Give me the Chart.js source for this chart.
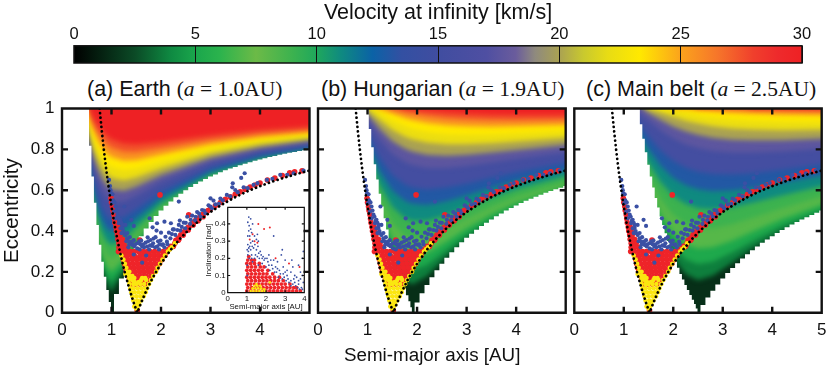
<!DOCTYPE html>
<html>
<head>
<meta charset="utf-8">
<script src="https://cdn.jsdelivr.net/npm/chart.js@4"></script>
<style>
  html, body { margin: 0; background: #fff; }
  #page { position: relative; width: 830px; height: 371px; overflow: hidden; font-family: "Liberation Sans", sans-serif; color: #111; }
  canvas { position: absolute; }
  .ptitle { position: absolute; top: 77px; font-size: 21.5px; white-space: nowrap; line-height: 24px; }
  .ptitle span { font-family: "Liberation Serif", serif; font-size: 21.5px; }
  #xlabel { position: absolute; top: 343px; left: 344px; font-size: 18.8px; white-space: nowrap; line-height: 24px; }
</style>
</head>
<body>
<div id="page">
  <canvas id="cbar" width="830" height="66" style="left:0;top:0"></canvas>
  <div class="ptitle" style="left:87px">(a) Earth <span>(<i>a</i> = 1.0AU)</span></div>
  <div class="ptitle" style="left:321px">(b) Hungarian <span>(<i>a</i> = 1.9AU)</span></div>
  <div class="ptitle" style="left:586px">(c) Main belt <span>(<i>a</i> = 2.5AU)</span></div>
  <canvas id="earth" width="322" height="271" style="left:0;top:100px"></canvas>
  <canvas id="hungarian" width="270" height="271" style="left:306px;top:100px"></canvas>
  <canvas id="mainbelt" width="268" height="271" style="left:562px;top:100px"></canvas>
  <canvas id="inset" width="112" height="118" style="left:200px;top:200px"></canvas>
  <div id="xlabel">Semi-major axis [AU]</div>
</div>
<script>
// colour scale
const scaleValues = [0, 2.5, 4, 5, 6, 7.5, 9, 10, 11, 12.3, 13.5, 15, 17, 18.2, 19, 20, 21, 22, 23.3, 25, 26.5, 28, 29, 30];
const scaleColours = ['#000000', '#0b4a26', '#0f8a42', '#1aa64c', '#2bb34d', '#6cba47', '#3cb24f', '#1fa85c', '#0f8a80', '#0b62a6', '#3350a2', '#404da0', '#4f4fa2', '#6a5c9c', '#8f8a7e', '#aaa252', '#c9c92e', '#e8dc14', '#ffe900', '#fba31c', '#f6762a', '#f03f2c', '#ee2a2c', '#ee2124'];
const cbarTicks = [0, 5, 10, 15, 20, 25, 30];

// contour levels in km/s, one row per level in the tables below
const levels = [3, 4.5, 6, 8, 10, 12, 14, 17, 19, 21, 23, 25, 27, 29];
// value whose colour paints the band above each level
const bandValues = [3.75, 5.25, 7, 9, 11, 13, 15.5, 17.6, 20, 22.2, 23.3, 25.6, 27.5, 30];
const floorValue = 1.6;

const earthA = [0.6, 0.7, 0.8, 0.9, 1, 1.25, 1.5, 2, 3, 4, 5.2];
const earthIso = [
  [.52, .36, .233, .14, .101, .202, .317, .474, .642, .729, .79],
  [.533, .379, .26, .181, .151, .228, .332, .483, .646, .732, .792],
  [.551, .404, .295, .226, .2, .26, .352, .494, .652, .736, .795],
  [.581, .444, .347, .289, .266, .307, .384, .513, .663, .743, .8],
  [.616, .49, .403, .352, .331, .359, .422, .536, .676, .752, .807],
  [.655, .539, .461, .415, .395, .412, .463, .563, .691, .763, .814],
  [.696, .59, .519, .477, .457, .466, .506, .592, .708, .775, .823],
  [.76, .668, .605, .567, .547, .545, .573, .64, .737, .795, .839],
  [.801, .718, .661, .625, .605, .597, .618, .673, .758, .81, .85],
  [.842, .767, .714, .68, .66, .648, .662, .706, .78, .826, .862],
  [.88, .813, .764, .732, .712, .697, .705, .74, .802, .843, .874],
  [.914, .855, .811, .781, .762, .744, .747, .773, .824, .859, .887],
  [.944, .894, .855, .827, .808, .788, .787, .805, .846, .876, .9],
  [.969, .928, .894, .869, .85, .829, .825, .836, .868, .893, .913]
];
const earthLeftEdge = [[.52,1],[.57,.818],[.62,.667],[.67,.538],[.72,.429],[.77,.333],[.82,.25],[.87,.176],[.92,.111],[.97,.053],[1.01,0]];
const earthLowEdge = [[1,0],[1.1,.091],[1.2,.167],[1.3,.231],[1.4,.286],[1.5,.333],[1.6,.375],[1.7,.412],[1.8,.444],[1.9,.474],[2,.5],[2.1,.524],[2.2,.545],[2.3,.565],[2.4,.583],[2.5,.6],[2.6,.615],[2.7,.63],[2.8,.643],[2.9,.655],[3,.667],[3.1,.677],[3.2,.688],[3.3,.697],[3.4,.706],[3.5,.714],[3.6,.722],[3.7,.73],[3.8,.737],[3.9,.744],[4,.75],[4.1,.756],[4.2,.762],[4.3,.767],[4.4,.773],[4.5,.778],[4.6,.783],[4.7,.787],[4.8,.792],[4.9,.796],[5,.8]];

const hungarianA = [1, 1.25, 1.5, 1.75, 1.9, 2.2, 2.6, 3, 3.5, 4, 5.2];
const hungarianIso = [
  [.667, .435, .264, .159, .138, .179, .274, .357, .44, .504, .613],
  [.685, .464, .309, .224, .207, .233, .308, .381, .457, .518, .622],
  [.709, .502, .362, .29, .275, .291, .35, .412, .481, .537, .634],
  [.748, .561, .44, .378, .364, .37, .412, .462, .519, .568, .656],
  [.792, .625, .519, .464, .45, .45, .478, .516, .563, .605, .682],
  [.838, .692, .598, .548, .534, .528, .546, .574, .611, .645, .711],
  [.883, .757, .674, .628, .613, .603, .613, .632, .661, .688, .743],
  [.944, .848, .779, .738, .723, .709, .709, .719, .736, .754, .793],
  [.974, .9, .841, .804, .79, .774, .769, .773, .784, .797, .827],
  [.994, .944, .896, .863, .85, .833, .825, .825, .83, .839, .86],
  [1.03, .977, .941, .914, .901, .885, .874, .871, .873, .878, .891],
  [1.03, .996, .975, .954, .944, .929, .918, .913, .911, .913, .92],
  [1.03, 1.03, .995, .983, .976, .964, .953, .947, .944, .943, .946],
  [1.03, 1.03, 1.03, .998, .995, .988, .98, .974, .97, .968, .968]
];
const hungarianLeftEdge = [[1,1],[1.05,.9],[1.1,.81],[1.15,.727],[1.2,.652],[1.25,.583],[1.3,.52],[1.35,.462],[1.4,.407],[1.45,.357],[1.5,.31],[1.55,.267],[1.6,.226],[1.65,.188],[1.7,.152],[1.75,.118],[1.8,.086],[1.85,.056],[1.88,.027],[1.91,0]];
const hungarianLowEdge = [[1.9,0],[2,.05],[2.1,.095],[2.2,.136],[2.3,.174],[2.4,.208],[2.5,.24],[2.6,.269],[2.7,.296],[2.8,.321],[2.9,.345],[3,.367],[3.1,.387],[3.2,.406],[3.3,.424],[3.4,.441],[3.5,.457],[3.6,.472],[3.7,.486],[3.8,.5],[3.9,.513],[4,.525],[4.1,.537],[4.2,.548],[4.3,.558],[4.4,.568],[4.5,.578],[4.6,.587],[4.7,.596],[4.8,.604],[4.9,.612],[5,.62]];

const mainBeltA = [1.25, 1.5, 1.75, 2, 2.25, 2.5, 2.8, 3.2, 3.6, 4.2, 5.2];
const mainBeltIso = [
  [.725, .536, .383, .266, .188, .159, .181, .246, .312, .397, .502],
  [.745, .567, .426, .323, .261, .238, .249, .296, .35, .424, .521],
  [.772, .606, .478, .388, .336, .315, .32, .353, .396, .459, .545],
  [.815, .668, .556, .48, .435, .415, .414, .434, .465, .513, .585],
  [.861, .734, .637, .571, .532, .512, .506, .517, .538, .574, .631],
  [.907, .801, .718, .66, .624, .604, .595, .598, .611, .637, .681],
  [.949, .864, .793, .743, .71, .69, .679, .677, .683, .7, .732],
  [.991, .942, .892, .853, .824, .806, .792, .784, .784, .79, .807],
  [1.03, .979, .944, .912, .888, .871, .857, .847, .844, .845, .854],
  [1.03, .998, .981, .959, .94, .926, .913, .902, .897, .894, .897],
  [1.03, 1.03, .999, .99, .978, .967, .957, .947, .941, .936, .934],
  [1.03, 1.03, 1.03, 1, .998, .993, .987, .979, .974, .969, .965],
  [1.03, 1.03, 1.03, 1.03, 1.03, 1, 1, .997, .995, .991, .987],
  [1.03, 1.03, 1.03, 1.03, 1.03, 1.03, 1.03, 1.03, 1, 1, .999]
];
const mainBeltLeftEdge = [[1.3,1],[1.35,.923],[1.4,.852],[1.45,.786],[1.5,.724],[1.55,.667],[1.6,.613],[1.65,.562],[1.7,.515],[1.75,.471],[1.8,.429],[1.85,.389],[1.9,.351],[1.95,.316],[2,.282],[2.05,.25],[2.1,.22],[2.15,.19],[2.2,.163],[2.25,.136],[2.3,.111],[2.35,.087],[2.4,.064],[2.44,.042],[2.47,.02],[2.51,0]];
const mainBeltLowEdge = [[2.5,0],[2.6,.038],[2.7,.074],[2.8,.107],[2.9,.138],[3,.167],[3.1,.194],[3.2,.219],[3.3,.242],[3.4,.265],[3.5,.286],[3.6,.306],[3.7,.324],[3.8,.342],[3.9,.359],[4,.375],[4.1,.39],[4.2,.405],[4.3,.419],[4.4,.432],[4.5,.444],[4.6,.457],[4.7,.468],[4.8,.479],[4.9,.49],[5,.5]];

// known bodies, [a, e]: the same orbits in all three panels
const blueOrbits = [[.95,.65],[.97,.62],[.99,.585],[1.03,.55],[1.08,.52],[1.26,.52],[1.12,.48],[1.18,.455],[1.28,.43],[1.4,.455],[1.45,.425],[1.22,.415],[1.32,.39],[1.37,.37],[1.45,.355],[1.52,.34],[1.6,.353],[1.69,.343],[1.79,.356],[1.89,.37],[1.99,.353],[2.09,.372],[2.16,.392],[2.26,.408],[2.36,.43],[2.46,.441],[2.53,.47],[2.63,.475],[2.73,.493],[2.83,.503],[2.96,.526],[3.06,.549],[3.2,.559],[3.33,.577],[3.5,.601],[3.67,.614],[3.87,.626],[4.14,.65],[4.41,.675],[4.68,.683],[4.88,.696],
  [1.77,.462],[1.83,.418],[1.91,.402],[1.92,.438],[2.07,.446],[2.2,.438],[2.24,.408],[2.38,.451],[2,.392],[1.73,.369],[1.85,.363],[2.36,.544],[3.69,.683],[3.44,.614],[3,.56],[3.62,.66],[3.45,.634],
  [1.42,.332],[1.52,.315],[1.62,.324],[1.72,.324],[1.82,.327],[1.92,.324],[2.02,.332],[2.12,.348],[2.19,.364],[2.29,.381],[2.39,.402],[2.49,.413],[2.59,.435],[2.69,.451],[2.8,.47],[2.9,.487],[3.03,.511],[3.17,.533],[1.15,.438],[1.18,.413],[1.25,.389],[1.32,.364],[1.38,.343],[1.01,.536],[1.05,.495],[1.08,.462],[1.62,.245],[1.45,.285],[1.7,.28],
  [1.3,.35],[1.36,.335],[1.42,.35],[1.48,.335],[1.56,.35],[1.64,.335],[1.74,.35],[1.84,.34],[1.94,.35],[2.04,.335],
  [1.34,.32],[1.46,.325],[1.58,.335],[1.66,.32],[1.78,.33],[1.88,.32],[1.97,.335],[2.07,.32],[2.13,.335],
  [1.57,.31],[1.76,.31],[1.96,.31],
  [2.22,.385],[2.33,.405],[2.42,.42],[2.5,.44],[2.6,.455],[2.7,.47],[2.77,.485],[2.87,.5],[3,.52],[3.1,.53],[3.25,.55],[3.4,.57],[3.55,.59],[3.75,.61],[3.95,.635],[4.25,.655],[4.55,.675],
  [.98,.6],[1.02,.58],[1.06,.54],[1.1,.5],[1.14,.47],[1.16,.45],[1.2,.44],[1.22,.43],[1.24,.4],[1.28,.38],[1.35,.35],[1.2,.39]];
const redOrbits = [[1.98,.577],[2.56,.479],[1.57,.356],
  [1.15,.32],[1.22,.32],[1.3,.32],[1.25,.34],[1.22,.36],[2.2,.32],[2.28,.34],[2.36,.36],
  [1.14,.3],[1.22,.3],[1.3,.3],[1.38,.3],[1.46,.3],[1.55,.3],[1.64,.3],[1.72,.3],[1.46,.28],[1.57,.27],[1.78,.3],[1.87,.3],[1.95,.3],[2.04,.3],[2.12,.3],
  [1.22,.28],[1.31,.28],[1.4,.28],[1.49,.27],[1.58,.28],[1.67,.28],[1.76,.28],[1.85,.28],[1.94,.28],[2.03,.28],[2.08,.28],
  [1.24,.26],[1.33,.26],[1.42,.26],[1.51,.26],[1.6,.26],[1.69,.26],[1.78,.26],[1.87,.26],[1.96,.26],[2.02,.26],
  [1.26,.24],[1.35,.24],[1.44,.24],[1.53,.24],[1.62,.24],[1.71,.24],[1.8,.24],[1.89,.24],[1.97,.24],
  [1.28,.22],[1.37,.22],[1.46,.22],[1.55,.22],[1.64,.22],[1.73,.22],[1.82,.22],[1.92,.22],
  [1.3,.2],[1.39,.2],[1.48,.2],[1.57,.2],[1.66,.2],[1.75,.2],[1.85,.2],
  [1.34,.18],[1.43,.18],[1.52,.18],[1.61,.18],[1.7,.18],[1.8,.18],
  [1.36,.16],[1.45,.16],[1.54,.16],[1.63,.16],[1.72,.16],
  [1.4,.14],[1.49,.14],[1.58,.14],[1.67,.14],[1.52,.01],
  [1.15,.34],[1.13,.36],[1.12,.38],[1.1,.4],[1.09,.42],[1.07,.44],[1.06,.46],[1.05,.48],[1.03,.5],[1.02,.52],[1,.54],[.99,.56],
  [1.2,.34],[1.18,.36],[1.17,.38],[1.15,.4],[1.13,.42],
  [2.2,.325],[2.3,.354],[2.4,.382],[2.5,.407],[2.6,.43],[2.7,.452],[2.8,.472],[2.9,.491],[3,.508],[3.2,.54],[3.4,.568],[3.6,.592],[3.8,.615],[4,.635],[4.3,.66],[4.6,.685],[4.85,.695],
  [2.25,.325],[2.35,.355],[2.45,.38],[2.55,.405],[2.65,.43],[2.75,.45],[2.85,.47],
  [2.15,.31],[2.35,.365],[2.45,.395],[2.55,.418],[2.65,.442],[2.75,.462],[2.85,.482],[2.95,.5],[3.1,.525],[3.3,.555],[3.5,.58],[3.7,.605],[3.9,.625],[4.15,.65],[4.45,.672],[4.7,.69]];
const yellowOrbits = [[1.5,.02],[1.48,.04],[1.56,.04],[1.44,.06],[1.52,.06],[1.6,.06],[1.42,.08],[1.5,.08],[1.58,.08],[1.65,.08],[1.4,.1],[1.47,.1],[1.55,.1],[1.63,.1],[1.69,.1],[1.38,.12],[1.44,.12],[1.52,.12],[1.6,.12],[1.68,.12],[1.72,.12],[1.36,.14],[1.44,.14],[1.5,.14],[1.58,.14],[1.66,.14],[1.76,.14],[1.35,.16],[1.42,.16],[1.6,.16],[1.7,.16],[1.8,.16],[1.34,.18],[1.38,.18],[1.42,.18],[1.84,.18],[1.31,.2],[1.36,.2],[1.9,.2],[1.3,.22],[1.93,.22],[1.27,.24],[1.98,.24],[1.24,.26],[2.03,.26],[1.2,.28],[2.08,.28],[2.14,.3],[2.22,.32],[2.28,.34],
  [1.28,.19],[1.4,.17],[1.46,.17],[1.47,.15],[1.55,.15],[1.62,.17],[1.68,.17],[2.18,.31],[1.46,.03],[1.53,.03],[1.54,.05]];

// dotted line of Mars-crossing orbits
const marsLine = [[.76,1],[.8,.9],[.85,.788],[.9,.689],[.95,.6],[1,.52],[1.05,.448],[1.1,.382],[1.15,.322],[1.2,.267],[1.25,.216],[1.3,.169],[1.35,.126],[1.4,.086],[1.45,.048],[1.52,0],[1.6,.05],[1.7,.106],[1.8,.156],[1.9,.2],[2,.24],[2.2,.309],[2.4,.367],[2.6,.415],[2.8,.457],[3,.493],[3.25,.532],[3.5,.566],[3.75,.595],[4,.62],[4.25,.642],[4.5,.662],[4.75,.68],[5,.696]];

// inset: [a, inclination]
const insetBlue = [[1.1,.44],[1.2,.43],[1.05,.41],[1.3,.4],[1.2,.37],[1.1,.36],[1.4,.33],[1.5,.31],[1.6,.3],[1.3,.3],[1.2,.29],[1.05,.28],[1.1,.26],[1.02,.25],[1.2,.25],[1.35,.26],[1.5,.25],[1.7,.24],[1.85,.21],[1.05,.22],[1.25,.22],[1.45,.22],[1.65,.2],[1.9,.19],[2.1,.18],[2.3,.16],[2.5,.15],[2,.15],[2.2,.13],[2.45,.12],[2.7,.13],[2.9,.11],[3.1,.1],[2.65,.09],[2.85,.08],[3.05,.07],[3.3,.07],[3.5,.06],[3.3,.04],[3.7,.05],[3.85,.03],[3.95,.06],[3.6,.09],[3.8,.08],[2.4,.33],[2.8,.22],[3,.19],[3.4,.15],[3.9,.2],[3.8,.12],[3.5,.1],[3,.12],[2.6,.18],[3.3,.12],[3.95,.24],[3.7,.16],[1.8,.17],[1.6,.16],[1.3,.18],[1.02,.16],[1.02,.1],
  [1.08,.24],[1.15,.27],[1.28,.27],[1.42,.28],[1.58,.27],[1.62,.23],[1.75,.22],[1.95,.2],[2.05,.2],[2.15,.16],[2.25,.19],[2.35,.14],[2.55,.12],[2.6,.14],[2.75,.11],[2.95,.09],[3.15,.08],[3.2,.06],[3.4,.05],[3.55,.04],[3.65,.03],[3.75,.02],[3.9,.02],[3.45,.08],[3.7,.07],[3.9,.1],[3.1,.13],[2.9,.15],[2.4,.19],[2.15,.22],[1.55,.34],[1.15,.33],[1.05,.33],[1.25,.35],[1.12,.39],[2.85,.25],[3.35,.19],[1.4,.2],[1.55,.21],[1.12,.2],[1.25,.2],[1.8,.2]];
const insetRed = [[1.6,.4],[1.9,.37],[2.2,.38],[1.4,.3],[1.15,.31],[1.55,.29],[2.5,.2],[3.2,.17],[3.75,.15],[1.3,.34]];
const insetRedCore = [
  [1,.01],[1.2,.01],[1.4,.01],[1.6,.01],[1.8,.01],[2,.01],[2.2,.01],[2.4,.01],[2.6,.01],[2.8,.01],[3,.01],[3.2,.01],[3.4,.01],[3.6,.01],[3.8,.01],
  [1.05,.03],[1.25,.03],[1.45,.03],[1.65,.03],[1.85,.03],[2.05,.03],[2.25,.03],[2.45,.03],[2.65,.03],[2.85,.03],[3.05,.03],[3.25,.03],[3.45,.03],[3.6,.03],
  [1,.05],[1.2,.05],[1.4,.05],[1.6,.05],[1.8,.05],[2,.05],[2.2,.05],[2.4,.05],[2.6,.05],[2.8,.05],[3,.05],[3.25,.05],
  [1.05,.07],[1.25,.07],[1.45,.07],[1.65,.07],[1.85,.07],[2.05,.07],[2.25,.07],[2.45,.07],[2.65,.07],[2.9,.07],
  [1,.09],[1.2,.09],[1.4,.09],[1.6,.09],[1.8,.09],[2,.09],[2.2,.09],[2.45,.09],[2.7,.09],
  [1.05,.11],[1.25,.11],[1.45,.11],[1.65,.11],[1.85,.11],[2.05,.11],[2.35,.11],
  [1,.13],[1.2,.13],[1.4,.13],[1.6,.13],[1.8,.13],[2.1,.13],
  [1.05,.15],[1.25,.15],[1.45,.15],[1.7,.15],[1.9,.15],
  [1,.17],[1.2,.17],[1.4,.17],[1.65,.17],
  [1.05,.19],[1.25,.19],[1.4,.19],[1.1,.21]];
const insetYellow = [[1.2,.01],[1.35,.01],[1.5,.01],[1.65,.01],[1.8,.01],[1.95,.01],[1.3,.025],[1.45,.025],[1.6,.025],[1.75,.025],[1.9,.02],[1.4,.04],[1.55,.04],[1.7,.04],[1.5,.05],[2.2,.06]];

const axisFont = { family: '"Liberation Sans", sans-serif', size: 17 };
const inkColour = '#111';
const HEAT_BLUR = 'blur(2.5px)';

function hexToRgb(hex) {
  return [1, 3, 5].map(i => parseInt(hex.slice(i, i + 2), 16));
}

function colourAt(v) {
  let i = 0;
  while (i < scaleValues.length - 2 && v > scaleValues[i + 1]) i++;
  const t = Math.min(1, Math.max(0, (v - scaleValues[i]) / (scaleValues[i + 1] - scaleValues[i])));
  const c0 = hexToRgb(scaleColours[i]);
  const c1 = hexToRgb(scaleColours[i + 1]);
  const rgb = c0.map((c, k) => Math.round(c + (c1[k] - c) * t));
  return 'rgb(' + rgb.join(',') + ')';
}

const toPoints = pairs => pairs.map(p => ({ x: p[0], y: p[1] }));

function shape(pairs, colour, stepped) {
  return {
    data: toPoints(pairs),
    showLine: true,
    fill: 'shape',
    backgroundColor: colour,
    borderWidth: 0,
    pointRadius: 0,
    stepped: stepped || false
  };
}

function dots(pairs, colour, radius) {
  return {
    data: toPoints(pairs),
    backgroundColor: colour,
    borderWidth: 0,
    pointRadius: radius,
    showLine: false
  };
}

// pin plot area and both axes to fixed canvas positions, the automatic layout drifts with the label sizes
function pinArea(box) {
  return {
    id: 'pinArea',
    afterLayout(chart) {
      const a = chart.chartArea;
      a.left = box.left; a.right = box.right; a.top = box.top; a.bottom = box.bottom;
      a.width = box.right - box.left;
      a.height = box.bottom - box.top;
      const { x, y } = chart.scales;
      x.left = box.left; x.right = box.right; x.width = a.width;
      x.top = box.bottom; x.bottom = box.axisBottom; x.height = box.axisBottom - box.bottom;
      y.left = box.axisLeft; y.right = box.left; y.width = box.left - box.axisLeft;
      y.top = box.top; y.bottom = box.bottom; y.height = a.height;
      x.configure();
      y.configure();
    }
  };
}

// frame and inward ticks on all four sides, taken from the scales
function framePlugin(lineWidth, tickLen) {
  return {
    id: 'frame',
    afterDraw(chart) {
      const { ctx, chartArea: a, scales } = chart;
      ctx.save();
      ctx.strokeStyle = inkColour;
      ctx.lineWidth = lineWidth;
      ctx.beginPath();
      scales.x.ticks.forEach(t => {
        const x = scales.x.getPixelForValue(t.value);
        ctx.moveTo(x, a.bottom); ctx.lineTo(x, a.bottom - tickLen);
        ctx.moveTo(x, a.top); ctx.lineTo(x, a.top + tickLen);
      });
      scales.y.ticks.forEach(t => {
        const y = scales.y.getPixelForValue(t.value);
        ctx.moveTo(a.left, y); ctx.lineTo(a.left + tickLen, y);
        ctx.moveTo(a.right, y); ctx.lineTo(a.right - tickLen, y);
      });
      ctx.rect(a.left, a.top, a.right - a.left, a.bottom - a.top);
      ctx.stroke();
      ctx.restore();
    }
  };
}

function panel(id, cols, iso, leftEdge, lowEdge, opts) {
  const apex = lowEdge[0][0];
  const heat = [];
  // highest level goes first, it has to be painted last
  for (let i = levels.length - 1; i >= 0; i--) {
    const pts = cols.map((a, k) => [a, iso[i][k]]);
    pts.push([5.6, iso[i][cols.length - 1]], [5.6, 1.2], [cols[0] - 0.3, 1.2]);
    heat.push(shape(pts, colourAt(bandValues[i])));
  }
  heat.push(shape([[-0.2, -0.2], [5.6, -0.2], [5.6, 1.2], [-0.2, 1.2]], colourAt(floorValue)));

  const leftMask = [[-0.2, 1.2], [leftEdge[0][0], 1.2], ...leftEdge, [apex, -0.2], [-0.2, -0.2]];
  const lowMask = [[apex, -0.2], ...lowEdge, [5.6, lowEdge[lowEdge.length - 1][1]], [5.6, -0.2]];

  const datasets = [
    {
      data: toPoints(marsLine), showLine: true, pointRadius: 0,
      borderColor: '#000', borderWidth: 2.7, borderDash: [0.1, 4.5], borderCapStyle: 'round'
    },
    dots(yellowOrbits, '#fbe610', 2.3),
    dots(blueOrbits, '#3a50a4', 2.1),
    dots(redOrbits, '#ee2429', 2.8),
    shape(leftMask, '#fff', 'middle'),
    shape(lowMask, '#fff', 'middle'),
    ...heat
  ];
  const firstHeat = 6;

  const blurPlugin = {
    id: 'heatBlur',
    beforeDatasetsDraw(chart) { chart.ctx.filter = HEAT_BLUR; },
    afterDatasetDraw(chart, args) { if (args.index === firstHeat) chart.ctx.filter = 'none'; }
  };

  return new Chart(document.getElementById(id), {
    type: 'scatter',
    data: { datasets },
    plugins: [pinArea(opts.box), blurPlugin, framePlugin(2.4, 6)],
    options: {
      responsive: false,
      animation: false,
      layout: { autoPadding: false },
      plugins: { legend: { display: false }, tooltip: { enabled: false } },
      scales: {
        x: {
          type: 'linear', min: 0, max: 5,
          grid: { display: false, drawTicks: false }, border: { display: false },
          afterBuildTicks(s) { s.ticks = opts.xTicks.map(v => ({ value: v })); },
          ticks: { color: inkColour, font: axisFont, padding: 7, maxRotation: 0, autoSkip: false,
            callback: v => (opts.xLabels.includes(v) ? String(v) : '') }
        },
        y: {
          type: 'linear', min: 0, max: 1,
          grid: { display: false, drawTicks: false }, border: { display: false },
          afterBuildTicks(s) { s.ticks = [0, .2, .4, .6, .8, 1].map(v => ({ value: v })); },
          title: { display: !!opts.yTitle, text: opts.yTitle, color: inkColour, padding: 0,
            font: { family: axisFont.family, size: 20.5 } },
          ticks: { display: opts.yLabels, color: inkColour, font: axisFont, padding: 7.5, autoSkip: false,
            callback: v => String(v) }
        }
      }
    }
  });
}

const allX = [0, 1, 2, 3, 4, 5];
panel('earth', earthA, earthIso, earthLeftEdge, earthLowEdge, {
  box: { left: 62, right: 309.5, top: 8.5, bottom: 212.7, axisLeft: 0, axisBottom: 271 },
  yTitle: 'Eccentricity', yLabels: true, xTicks: allX, xLabels: [0, 1, 2, 3, 4]
});
panel('hungarian', hungarianA, hungarianIso, hungarianLeftEdge, hungarianLowEdge, {
  box: { left: 12, right: 259.7, top: 8.5, bottom: 212.7, axisLeft: 0, axisBottom: 271 },
  yLabels: false, xTicks: allX, xLabels: [0, 1, 2, 3, 4]
});
panel('mainbelt', mainBeltA, mainBeltIso, mainBeltLeftEdge, mainBeltLowEdge, {
  box: { left: 12.3, right: 259.7, top: 8.5, bottom: 212.7, axisLeft: 0, axisBottom: 271 },
  yLabels: false, xTicks: allX, xLabels: [0, 1, 2, 3, 4, 5]
});

// inset with the inclinations
const insetFont = { family: axisFont.family, size: 7.8 };
new Chart(document.getElementById('inset'), {
  type: 'scatter',
  data: {
    datasets: [
      dots(insetYellow, '#fbe610', 1.3),
      dots(insetBlue, '#3a50a4', 0.9),
      dots(insetRed, '#ee2429', 1),
      dots(insetRedCore, '#ee2429', 1.9)
    ]
  },
  plugins: [pinArea({ left: 27.7, right: 104.3, top: 7.3, bottom: 92.7, axisLeft: 4.5, axisBottom: 111.5 }), framePlugin(1.2, 2.5)],
  options: {
    responsive: false,
    animation: false,
    layout: { autoPadding: false },
    plugins: { legend: { display: false }, tooltip: { enabled: false } },
    scales: {
      x: {
        type: 'linear', min: 0, max: 4,
        grid: { display: false, drawTicks: false }, border: { display: false },
        afterBuildTicks(s) { s.ticks = [0, 1, 2, 3, 4].map(v => ({ value: v })); },
        title: { display: true, text: 'Semi-major axis [AU]', color: inkColour, font: insetFont, padding: 0 },
        ticks: { color: inkColour, font: insetFont, padding: 1, maxRotation: 0, autoSkip: false }
      },
      y: {
        type: 'linear', min: 0, max: 0.497,
        grid: { display: false, drawTicks: false }, border: { display: false },
        afterBuildTicks(s) { s.ticks = [0, .1, .2, .3, .4].map(v => ({ value: v })); },
        title: { display: true, text: 'Inclination [rad]', color: inkColour, font: insetFont, padding: 0 },
        ticks: { color: inkColour, font: insetFont, padding: 2, autoSkip: false, callback: v => String(v) }
      }
    }
  }
});

// colour bar, one floating bar across the whole value range
new Chart(document.getElementById('cbar'), {
  type: 'bar',
  data: {
    labels: ['v'],
    datasets: [{
      data: [[0, 30]],
      categoryPercentage: 1,
      barPercentage: 1,
      backgroundColor(c) {
        const area = c.chart.chartArea;
        if (!area) return '#000';
        const g = c.chart.ctx.createLinearGradient(area.left, 0, area.right, 0);
        scaleValues.forEach((v, i) => g.addColorStop(v / 30, scaleColours[i]));
        return g;
      }
    }]
  },
  plugins: [{
    id: 'cbarFrame',
    afterDraw(chart) {
      const { ctx, chartArea: a } = chart;
      ctx.save();
      ctx.strokeStyle = inkColour;
      ctx.lineWidth = 1.5;
      ctx.strokeRect(a.left, a.top, a.right - a.left, a.bottom - a.top);
      ctx.restore();
    }
  }],
  options: {
    indexAxis: 'y',
    responsive: false,
    animation: false,
    layout: { autoPadding: false, padding: { left: 74, right: 28, bottom: 3 } },
    plugins: {
      legend: { display: false },
      tooltip: { enabled: false },
      title: { display: true, text: 'Velocity at infinity [km/s]', color: inkColour, padding: 0,
        font: { family: axisFont.family, size: 21.5, weight: 'normal' } }
    },
    scales: {
      x: {
        type: 'linear', position: 'top', min: 0, max: 30,
        grid: { color: '#111', lineWidth: 1, z: 1, drawTicks: false }, border: { display: false },
        afterFit(s) { s.height = 20; },
        afterBuildTicks(s) { s.ticks = cbarTicks.map(v => ({ value: v })); },
        ticks: { color: inkColour, font: { family: axisFont.family, size: 16.5 }, padding: 1.5, maxRotation: 0, autoSkip: false }
      },
      y: { display: false }
    }
  }
});
</script>
</body>
</html>
